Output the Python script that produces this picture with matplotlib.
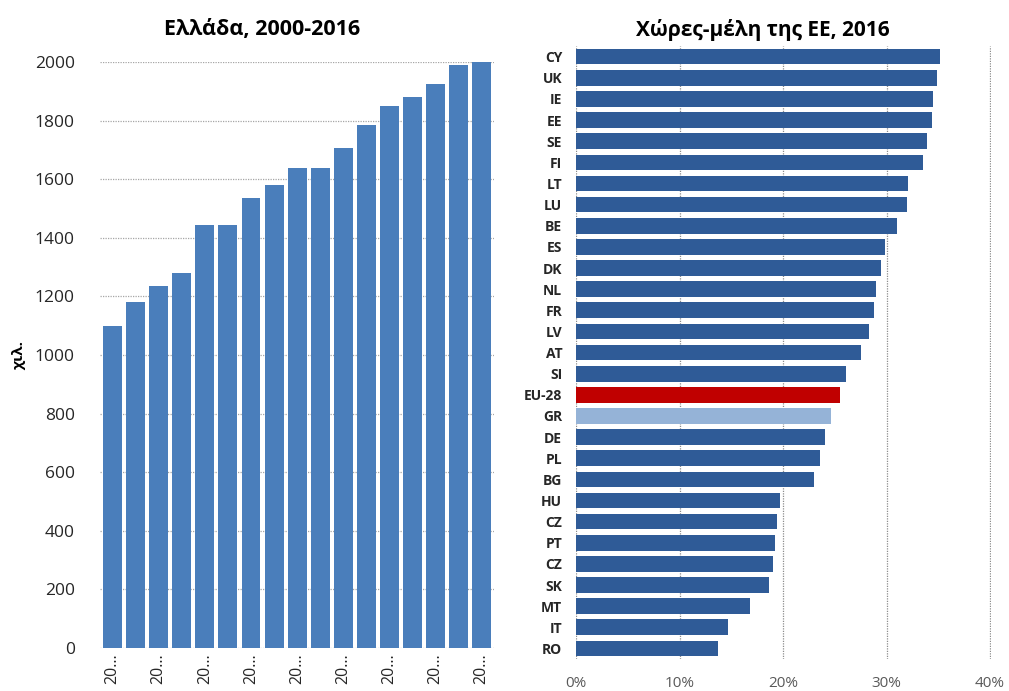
import matplotlib.pyplot as plt

plt.rcParams['font.family'] = ['Open Sans', 'DejaVu Sans']

# Αριστερό διάγραμμα: Ελλάδα, 2000-2016 (χιλ.)
years = list(range(2000, 2017))
greece_values = [1100, 1180, 1235, 1280, 1445, 1445, 1535, 1580, 1640, 1640,
                 1705, 1785, 1850, 1880, 1925, 1990, 2000]
year_labels = ['20…' if i % 2 == 0 else '' for i in range(len(years))]

# Δεξί διάγραμμα: χώρες-μέλη της ΕΕ, 2016 (%)
countries = ['CY', 'UK', 'IE', 'EE', 'SE', 'FI', 'LT', 'LU', 'BE', 'ES', 'DK',
             'NL', 'FR', 'LV', 'AT', 'SI', 'EU-28', 'GR', 'DE', 'PL', 'BG',
             'HU', 'CZ', 'PT', 'CZ', 'SK', 'MT', 'IT', 'RO']
shares = [35.2, 34.85, 34.5, 34.4, 33.9, 33.55, 32.1, 32.0, 31.0, 29.9, 29.5,
          29.0, 28.8, 28.3, 27.5, 26.1, 25.5, 24.6, 24.1, 23.6, 23.0,
          19.7, 19.45, 19.2, 19.05, 18.6, 16.8, 14.7, 13.7]

colors = []
for c in countries:
    if c == 'EU-28':
        colors.append('#C00000')
    elif c == 'GR':
        colors.append('#95B3D7')
    else:
        colors.append('#2F5B97')

fig = plt.figure(figsize=(10.09, 6.91), dpi=100)

# --- αριστερά
ax1 = fig.add_axes([0.099, 0.0622, 0.391, 0.8480])
x = list(range(len(years)))
ax1.bar(x, greece_values, width=0.82, color='#4A7EBB', zorder=2)
ax1.set_xlim(-0.55, len(years) - 0.45)
ax1.set_ylim(0, 2000)
ax1.set_yticks(range(0, 2001, 200))
ax1.yaxis.grid(True, linestyle=(0, (1, 1)), color='#A6A6A6', linewidth=0.9, zorder=0)
ax1.set_xticks(x)
ax1.set_xticklabels(year_labels, rotation=90, fontsize=11.5, color='#404040')
ax1.tick_params(axis='both', length=0, colors='#262626')
ax1.tick_params(axis='y', pad=18, labelsize=12.5)
for s in ax1.spines.values():
    s.set_visible(False)
ax1.set_ylabel('χιλ.', fontsize=11, fontweight='bold', labelpad=6)
fig.text(262 / 1009, 1 - 30 / 691, 'Ελλάδα, 2000-2016', fontsize=15.5,
         fontweight='bold', ha='center', va='center')

# --- δεξιά
ax2 = fig.add_axes([0.5709, 0.0463, 0.4113, 0.8870])
y = list(range(len(countries)))
ax2.barh(y, shares, height=0.74, color=colors, zorder=2)
ax2.set_ylim(len(countries) - 0.5, -0.5)
ax2.set_xlim(0, 40.1)
ax2.set_xticks([0, 10, 20, 30, 40])
ax2.set_xticklabels(['0%', '10%', '20%', '30%', '40%'])
ax2.xaxis.grid(True, linestyle=(0, (1, 1)), color='#8C8C8C', linewidth=0.9, zorder=0)
ax2.set_yticks(y)
ax2.set_yticklabels(countries, fontsize=10, fontweight='bold', color='#262626')
ax2.tick_params(axis='y', length=0, pad=10)
ax2.tick_params(axis='x', length=0, labelsize=11, colors='#595959', pad=12)
for s in ax2.spines.values():
    s.set_visible(False)
fig.text(763 / 1009, 1 - 30 / 691, 'Χώρες-μέλη της ΕΕ, 2016', fontsize=15,
         fontweight='bold', ha='center', va='center')

fig.savefig('out.png', dpi=100)
